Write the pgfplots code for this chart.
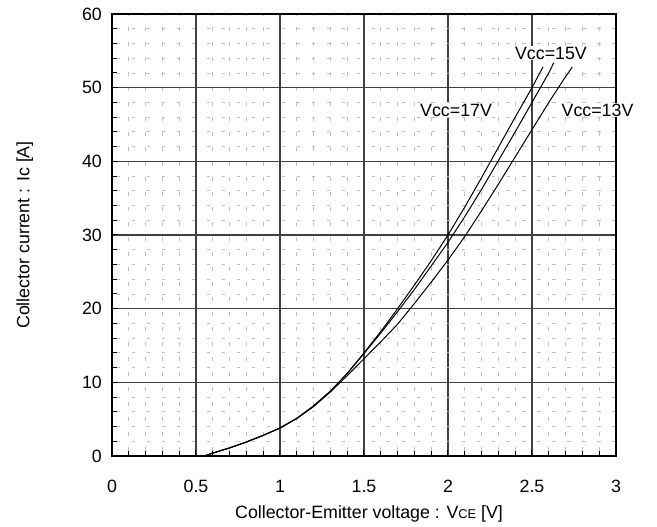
\documentclass[border=0pt]{standalone}
\usepackage{fontspec}
\setmainfont{Liberation Sans}
\usepackage{pgfplots}
\pgfplotsset{compat=1.18}

\begin{document}
\fontsize{17.8}{21}\selectfont
\begin{tikzpicture}
\path[use as bounding box] (-112pt,-71pt) rectangle (545pt,456pt);
\begin{axis}[
    at={(0pt,0pt)}, anchor=south west,
    scale only axis,
    width=504pt, height=442pt,
    xmin=0, xmax=3, ymin=0, ymax=60,
    xtick={0,0.5,...,3}, ytick={0,10,...,60},
    minor x tick num=4, minor y tick num=4,
    xticklabels={0,0.5,1,1.5,2,2.5,3},
    /pgf/number format/assume math mode=true,
    grid=both,
    major grid style={black!75, line width=1.2pt},
    minor grid style={black!25, line width=0.8pt, dash pattern=on 3.5pt off 11.5pt, dash phase=-5pt},
    axis line style={line width=1.3pt},
    tick align=inside,
    tick pos=left,
    major tick length=6pt, minor tick length=5pt,
    tick style={black, line width=1pt},
    xticklabel style={yshift=-18pt},
    yticklabel style={xshift=-4pt},
    xlabel={Collector-Emitter voltage : V{\fontsize{12.8}{14}\selectfont CE} [V]},
    ylabel={Collector current : Ic [A]},
    xlabel style={at={(axis description cs:0.51,-0.130)}, anchor=center},
    ylabel style={at={(axis description cs:-0.173,0.5)}, anchor=center, rotate=0},
    clip=false,
]
% Vcc=17V
\addplot[black, line width=1pt] coordinates {
 (0.55,0) (0.6,0.4) (0.7,1.1) (0.8,1.9) (0.9,2.8) (1.0,3.8) (1.1,5.1) (1.2,6.8)
 (1.3,8.8) (1.4,11.2) (1.5,14.0) (1.6,16.9) (1.7,20.0) (1.8,23.2) (1.9,26.5)
 (2.0,30.0) (2.1,33.8) (2.2,37.8) (2.3,41.9) (2.4,46.0) (2.5,50.0) (2.565,52.8)
};
% Vcc=15V
\addplot[black, line width=1pt] coordinates {
 (0.55,0) (0.6,0.4) (0.7,1.1) (0.8,1.9) (0.9,2.8) (1.0,3.8) (1.1,5.1) (1.2,6.8)
 (1.3,8.8) (1.4,11.2) (1.5,13.9) (1.6,16.7) (1.7,19.6) (1.8,22.6) (1.9,25.8)
 (2.0,29.0) (2.1,32.5) (2.2,36.2) (2.3,40.1) (2.4,44.0) (2.5,48.0) (2.6,52.0) (2.63,53.4)
};
% Vcc=13V
\addplot[black, line width=1pt] coordinates {
 (0.55,0) (0.6,0.4) (0.7,1.1) (0.8,1.9) (0.9,2.8) (1.0,3.8) (1.1,5.1) (1.2,6.7)
 (1.3,8.7) (1.4,10.9) (1.5,13.2) (1.6,15.5) (1.7,17.9) (1.8,20.7) (1.9,23.6)
 (2.0,26.6) (2.1,29.8) (2.2,33.3) (2.3,36.9) (2.4,40.6) (2.5,44.3) (2.6,48.0)
 (2.7,51.5) (2.74,52.8)
};
\node[fill=white, inner sep=1pt] at (axis cs:2.613,54.7) {Vcc=15V};
\node[fill=white, inner sep=1pt] at (axis cs:2.048,46.97) {Vcc=17V};
\node[fill=white, inner sep=1pt] at (axis cs:2.89,46.97) {Vcc=13V};
\end{axis}
\end{tikzpicture}
\end{document}
